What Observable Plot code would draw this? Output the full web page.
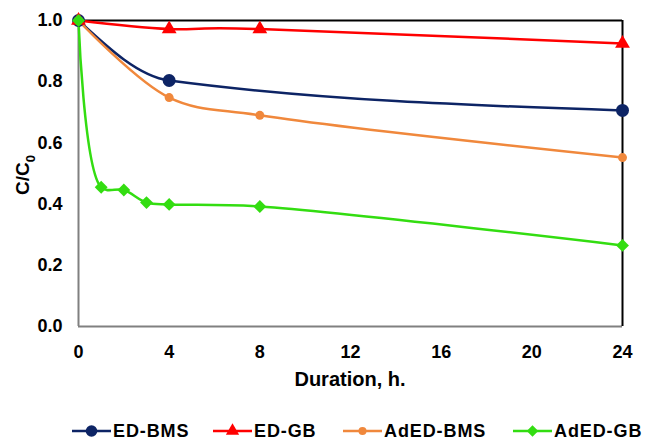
<!DOCTYPE html>
<html>
<head>
<meta charset="utf-8">
<script src="https://cdn.jsdelivr.net/npm/d3@7"></script>
<script src="https://cdn.jsdelivr.net/npm/@observablehq/plot@0.6"></script>
<style>
  html, body { margin: 0; padding: 0; background: #fff; }
  #chart { width: 653px; height: 439px; position: relative; overflow: hidden; }
  #legend { position: absolute; left: 0; top: 420px; width: 653px; height: 22px; font: bold 18px "Liberation Sans", Arial, sans-serif; color: #000; letter-spacing: 0.9px; }
  #legend .item { display: flex; align-items: center; position: absolute; top: 0; height: 22px; }
  #legend svg { display: block; }
</style>
</head>
<body>
<div id="chart"></div>
<script>
const seriesNames = ["ED-BMS", "ED-GB", "AdED-BMS", "AdED-GB"];
const seriesColors = ["#0d2465", "#ff0000", "#f0883c", "#33dd11"];
const seriesSymbols = ["circle", "triangle", "circle", "diamond2"];
const seriesSizes = [6.5, 5.5, 4.5, 5.8];
const seriesCurves = ["monotone-x", "cardinal", "catmull-rom", "catmull-rom"];

const edBmsX = [0, 4, 24];
const edBmsY = [1.0, 0.804, 0.706];
const edGbX = [0, 4, 8, 24];
const edGbY = [1.0, 0.972, 0.972, 0.925];
const adEdBmsX = [0, 4, 8, 24];
const adEdBmsY = [1.0, 0.748, 0.690, 0.552];
const adEdGbX = [0, 1, 2, 3, 4, 8, 24];
const adEdGbY = [1.0, 0.455, 0.446, 0.405, 0.399, 0.392, 0.265];

const xTicks = [0, 4, 8, 12, 16, 20, 24];
const yTicks = [0, 0.2, 0.4, 0.6, 0.8, 1.0];

const seriesX = [edBmsX, edGbX, adEdBmsX, adEdGbX];
const seriesY = [edBmsY, edGbY, adEdBmsY, adEdGbY];

const data = [];
seriesNames.forEach((name, i) => {
  seriesX[i].forEach((x, j) => data.push({series: name, idx: i, x, y: seriesY[i][j]}));
});

const marks = [
  Plot.ruleX([0], {stroke: "#808080", strokeWidth: 2}),
  Plot.ruleY([0], {stroke: "#808080", strokeWidth: 2}),
  Plot.ruleY([1], {stroke: "#000", strokeWidth: 2}),
  Plot.ruleX([24], {stroke: "#000", strokeWidth: 2})
];
seriesNames.forEach((name, i) => {
  const d = data.filter(p => p.idx === i);
  marks.push(Plot.line(d, {x: "x", y: "y", stroke: seriesColors[i], strokeWidth: 2.5, curve: seriesCurves[i]}));
});
seriesNames.forEach((name, i) => {
  const d = data.filter(p => p.idx === i);
  marks.push(Plot.dot(d, {x: "x", y: "y", fill: seriesColors[i], stroke: "none", symbol: () => seriesSymbols[i], r: seriesSizes[i]}));
});
marks.push(Plot.axisY(yTicks, {tickFormat: d3.format(".1f"), tickSize: 0, tickPadding: 16, fontSize: 18, fontWeight: "bold", label: null}));
marks.push(Plot.axisX(xTicks, {tickSize: 0, tickPadding: 19, fontSize: 18, fontWeight: "bold", label: null}));

const plot = Plot.plot({
  width: 653,
  height: 405,
  marginTop: 20,
  marginLeft: 78,
  marginRight: 31,
  marginBottom: 79,
  x: {domain: [0, 24]},
  y: {domain: [0, 1]},
  style: {fontFamily: "'Liberation Sans', Arial, sans-serif", color: "#000", background: "#fff"},
  marks
});
document.getElementById("chart").appendChild(plot);

const svg = d3.select(plot);
const ylab = svg.append("text")
  .attr("transform", "translate(29,175) rotate(-90)")
  .attr("text-anchor", "middle")
  .attr("font-size", 19).attr("font-weight", "bold")
  .attr("fill", "#000")
  .attr("font-family", "'Liberation Sans', Arial, sans-serif");
ylab.append("tspan").text("C/C");
ylab.append("tspan").attr("font-size", 13).attr("dy", 6).text("0");

svg.append("text")
  .attr("x", 350).attr("y", 386)
  .attr("text-anchor", "middle")
  .attr("font-size", 20).attr("font-weight", "bold")
  .attr("fill", "#000")
  .attr("font-family", "'Liberation Sans', Arial, sans-serif")
  .text("Duration, h.");

// Legend (HTML below the SVG)
const legend = d3.select("#chart").append("div").attr("id", "legend");
const legendLeft = [72, 213, 343, 513];
seriesNames.forEach((name, i) => {
  const item = legend.append("div").attr("class", "item").style("left", legendLeft[i] + "px");
  const sw = item.append("svg").attr("width", 39).attr("height", 20);
  sw.append("line").attr("x1", 0).attr("x2", 39).attr("y1", 10).attr("y2", 10)
    .attr("stroke", seriesColors[i]).attr("stroke-width", 2.5);
  const sym = seriesSymbols[i] === "triangle" ? d3.symbolTriangle : seriesSymbols[i] === "diamond2" ? d3.symbolDiamond2 : d3.symbolCircle;
  sw.append("path").attr("transform", "translate(19.5,10)")
    .attr("d", d3.symbol(sym, Math.PI * seriesSizes[i] * seriesSizes[i] * 0.8)())
    .attr("fill", seriesColors[i]);
  item.append("span").style("margin-left", "2px").text(name);
});
</script>
</body>
</html>
